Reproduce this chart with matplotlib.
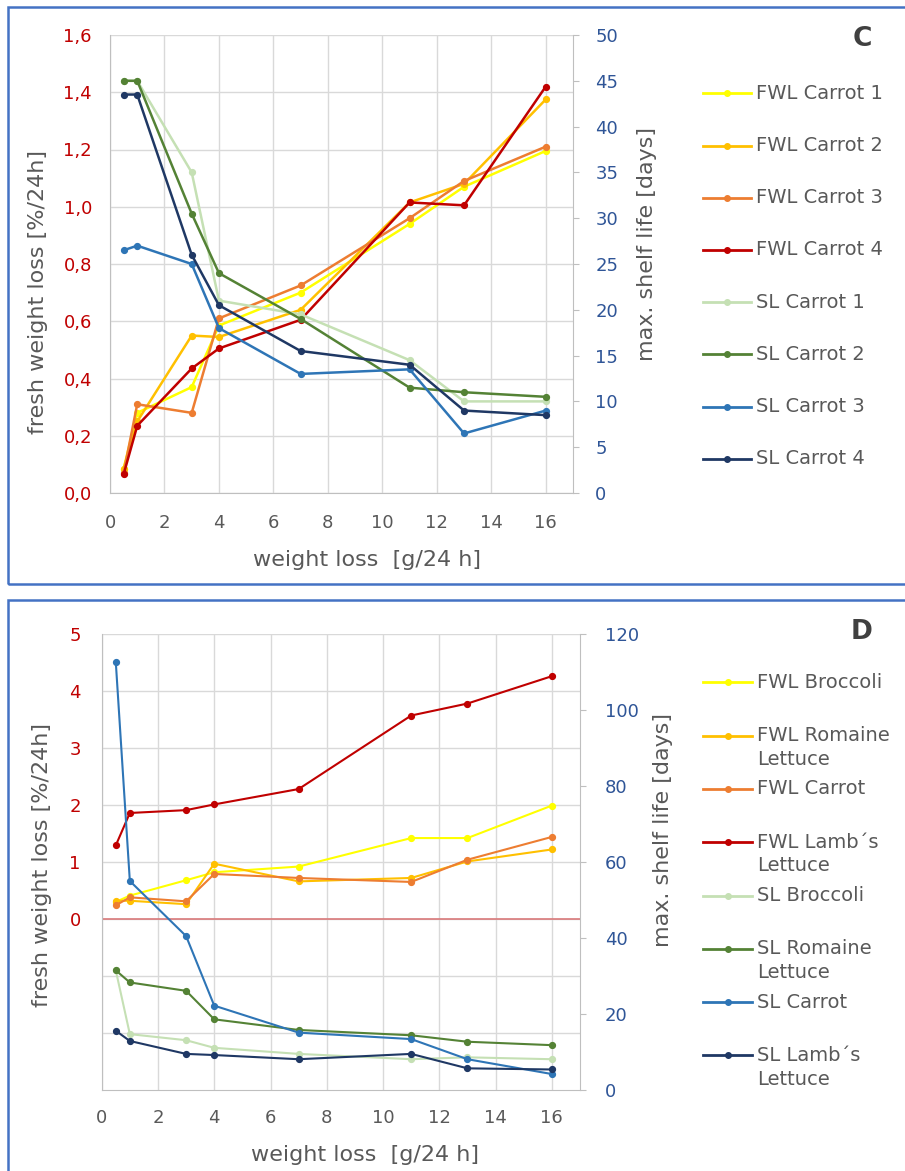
import matplotlib
matplotlib.use("Agg")
import matplotlib.pyplot as plt
from matplotlib.lines import Line2D
from matplotlib.patches import Rectangle

plt.rcParams["font.family"] = ["DejaVu Sans"]

# ── data ────────────────────────────────────────────────────────────────
x = [0.5, 1, 3, 4, 7, 11, 13, 16]

# panel C  (fresh weight loss, left axis  /  shelf life, right axis)
fwl_c1 = [0.085, 0.28, 0.37, 0.585, 0.70, 0.94, 1.07, 1.195]
fwl_c2 = [0.085, 0.25, 0.55, 0.545, 0.64, 1.015, 1.08, 1.375]
fwl_c3 = [0.07, 0.31, 0.28, 0.61, 0.725, 0.96, 1.09, 1.21]
fwl_c4 = [0.065, 0.235, 0.435, 0.505, 0.605, 1.015, 1.005, 1.42]
sl_c1 = [45, 45, 35, 21, 19.5, 14.5, 10, 10]
sl_c2 = [45, 45, 30.5, 24, 19, 11.5, 11, 10.5]
sl_c3 = [26.5, 27, 25, 18, 13, 13.5, 6.5, 9]
sl_c4 = [43.5, 43.5, 26, 20.5, 15.5, 14, 9, 8.5]
labels_c = ["FWL Carrot 1", "FWL Carrot 2", "FWL Carrot 3", "FWL Carrot 4",
            "SL Carrot 1", "SL Carrot 2", "SL Carrot 3", "SL Carrot 4"]

# panel D
fwl_broc = [0.3, 0.41, 0.68, 0.82, 0.92, 1.42, 1.42, 1.99]
fwl_rom = [0.32, 0.32, 0.26, 0.97, 0.66, 0.72, 1.01, 1.22]
fwl_car = [0.24, 0.38, 0.31, 0.79, 0.72, 0.65, 1.04, 1.44]
fwl_lamb = [1.29, 1.86, 1.91, 2.01, 2.28, 3.57, 3.78, 4.26]
sl_broc = [31.5, 14.7, 13.1, 11.1, 9.5, 8.1, 8.6, 8.1]
sl_rom = [31.5, 28.3, 26.1, 18.6, 15.8, 14.4, 12.7, 11.8]
sl_car = [112.7, 55, 40.5, 22.2, 15.1, 13.4, 8.1, 4.2]
sl_lamb = [15.6, 12.9, 9.5, 9.2, 8.1, 9.5, 5.7, 5.4]
labels_d = ["FWL Broccoli", "FWL Romaine\nLettuce", "FWL Carrot", "FWL Lamb\u00b4s\nLettuce",
            "SL Broccoli", "SL Romaine\nLettuce", "SL Carrot", "SL Lamb\u00b4s\nLettuce"]

c_left_ticks = [0.0, 0.2, 0.4, 0.6, 0.8, 1.0, 1.2, 1.4, 1.6]
c_right_ticks = [0, 5, 10, 15, 20, 25, 30, 35, 40, 45, 50]
d_left_ticks = [-2, -1, 0, 1, 2, 3, 4, 5]
d_left_labels = ["", "", "0", "1", "2", "3", "4", "5"]
d_right_ticks = [0, 20, 40, 60, 80, 100, 120]
x_ticks = [0, 2, 4, 6, 8, 10, 12, 14, 16]

COLORS = ["#FFFF00", "#FFC000", "#ED7D31", "#C00000",
          "#C5E0B4", "#548235", "#2E75B6", "#1F3864"]

RED = "#C00000"
BLUE = "#2F5597"
GREY_TXT = "#595959"
GRID = "#D9D9D9"
SPINE = "#BFBFBF"

W, H = 905, 1171
fig = plt.figure(figsize=(W / 100, H / 100), dpi=100)

def fx(px):
    return px / W

def fy(py):
    return 1 - py / H

def axes_rect(l, t, r, b):
    return [fx(l), fy(b), (r - l) / W, (b - t) / H]

def style_axes(ax, ax2, xpad, lpad, rpad):
    ax.set_xlim(0, 17)
    ax.set_xticks(x_ticks)
    ax.set_xticklabels([str(v) for v in x_ticks])
    ax.grid(True, color=GRID, lw=1.0)
    ax.set_axisbelow(True)
    for s in ["top"]:
        ax.spines[s].set_visible(False)
        ax2.spines[s].set_visible(False)
    ax.spines["left"].set_color(SPINE)
    ax.spines["bottom"].set_color(SPINE)
    ax.spines["right"].set_visible(False)
    ax2.spines["left"].set_visible(False)
    ax2.spines["bottom"].set_visible(False)
    ax2.spines["right"].set_color(SPINE)
    ax.tick_params(axis="x", length=0, pad=xpad, labelsize=13, labelcolor=GREY_TXT)
    ax.tick_params(axis="y", length=0, pad=lpad, labelsize=13, labelcolor=RED)
    ax2.tick_params(axis="y", length=4, color=SPINE, pad=rpad, labelsize=13, labelcolor=BLUE)

def draw_legend(labels, x0, x1, y0, step, lw, ms):
    for i, (lab, col) in enumerate(zip(labels, COLORS)):
        y = y0 + i * step
        fig.add_artist(Line2D([fx(x0), fx((x0 + x1) / 2), fx(x1)], [fy(y)] * 3,
                              color=col, lw=lw, marker="o", ms=ms, markevery=[1],
                              transform=fig.transFigure))
        for j, line in enumerate(lab.split("\n")):
            fig.text(fx(x1 + 5), fy(y + j * 23.7), line, fontsize=14,
                     color=GREY_TXT, va="center", ha="left")

# ── panel C ─────────────────────────────────────────────────────────────
axC = fig.add_axes(axes_rect(110, 35, 573, 493))
axC2 = axC.twinx()
for ys, col in zip([fwl_c1, fwl_c2, fwl_c3, fwl_c4], COLORS[:4]):
    axC.plot(x, ys, color=col, lw=1.8, marker="o", ms=4.2)
for ys, col in zip([sl_c1, sl_c2, sl_c3, sl_c4], COLORS[4:]):
    axC2.plot(x, ys, color=col, lw=1.8, marker="o", ms=4.2)
axC.set_ylim(0, 1.6)
axC.set_yticks(c_left_ticks)
axC.set_yticklabels([f"{v:.1f}".replace(".", ",") for v in c_left_ticks])
axC2.set_ylim(0, 50)
axC2.set_yticks(c_right_ticks)
style_axes(axC, axC2, xpad=15, lpad=13, rpad=12)

fig.text(fx(38), fy(292), "fresh weight loss [%/24h]", rotation=90, fontsize=16,
         color=GREY_TXT, ha="center", va="center")
fig.text(fx(647), fy(244), "max. shelf life [days]", rotation=90, fontsize=16,
         color=GREY_TXT, ha="center", va="center")
fig.text(fx(367), fy(560), "weight loss  [g/24 h]", fontsize=16,
         color=GREY_TXT, ha="center", va="center")
fig.text(fx(862), fy(39), "C", fontsize=19, fontweight="bold",
         color="#404040", ha="center", va="center")
draw_legend(labels_c, 703, 751, 93.3, 52.2, 2.0, 4)

# ── panel D ─────────────────────────────────────────────────────────────
axD = fig.add_axes(axes_rect(101.7, 634, 580, 1090))
axD2 = axD.twinx()
for ys, col in zip([fwl_broc, fwl_rom, fwl_car, fwl_lamb], COLORS[:4]):
    axD.plot(x, ys, color=col, lw=1.5, marker="o", ms=4.2)
for ys, col in zip([sl_broc, sl_rom, sl_car, sl_lamb], COLORS[4:]):
    axD2.plot(x, ys, color=col, lw=1.5, marker="o", ms=4.2)
axD.set_ylim(-3, 5)
axD.set_yticks(d_left_ticks)
axD.set_yticklabels(d_left_labels)
axD.axhline(0, color="#D9797B", lw=1.2, zorder=1.5)
axD2.set_ylim(0, 120)
axD2.set_yticks(d_right_ticks)
style_axes(axD, axD2, xpad=14, lpad=15, rpad=14)

fig.text(fx(42), fy(865), "fresh weight loss [%/24h]", rotation=90, fontsize=16,
         color=GREY_TXT, ha="center", va="center")
fig.text(fx(663), fy(830), "max. shelf life [days]", rotation=90, fontsize=16,
         color=GREY_TXT, ha="center", va="center")
fig.text(fx(365), fy(1155), "weight loss  [g/24 h]", fontsize=16,
         color=GREY_TXT, ha="center", va="center")
fig.text(fx(862), fy(632), "D", fontsize=19, fontweight="bold",
         color="#404040", ha="center", va="center")
draw_legend(labels_d, 703.3, 751.7, 682.3, 53.3, 2.0, 4)

# ── panel frames ────────────────────────────────────────────────────────
fig.add_artist(Rectangle((fx(8), fy(584)), fx(920), (584 - 6.5) / H, fill=False,
                         ec="#4472C4", lw=1.8, transform=fig.transFigure))
fig.add_artist(Rectangle((fx(8), fy(1190)), fx(920), (1190 - 600) / H, fill=False,
                         ec="#4472C4", lw=1.8, transform=fig.transFigure))

fig.savefig("out.png", dpi=100, facecolor="white")
